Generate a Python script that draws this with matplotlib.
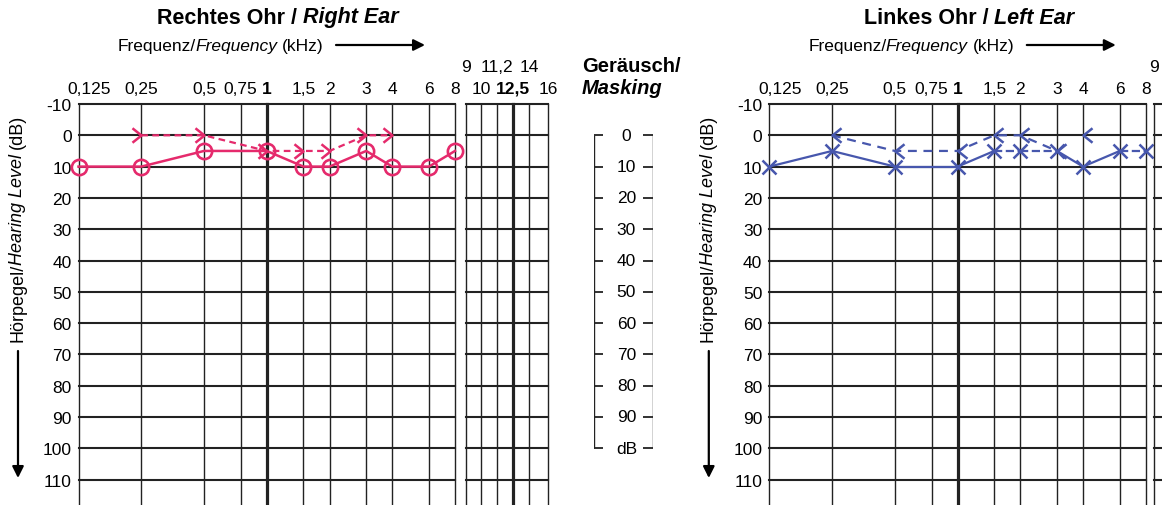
import numpy as np
import matplotlib.pyplot as plt
from matplotlib.path import Path
from matplotlib.text import Annotation
from matplotlib.transforms import blended_transform_factory, ScaledTranslation

plt.rcParams['font.family'] = ['Liberation Sans', 'DejaVu Sans']

# grid frequencies (kHz) and printed labels
freqs = [0.125, 0.25, 0.5, 0.75, 1, 1.5, 2, 3, 4, 6, 8]
freq_labels = ['0,125', '0,25', '0,5', '0,75', '1', '1,5', '2', '3', '4', '6', '8']
ext_freqs = [9, 10, 11.2, 12.5, 14, 16]
ext_labels = ['9', '10', '11,2', '12,5', '14', '16']
levels = list(range(-10, 111, 10))
mask_levels = list(range(0, 101, 10))
mask_labels = ['0', '10', '20', '30', '40', '50', '60', '70', '80', '90', 'dB']

# right ear (red): air conduction (O), bone conduction (>)
r_air_f = [0.125, 0.25, 0.5, 1, 1.5, 2, 3, 4, 6, 8]
r_air_db = [10, 10, 5, 5, 10, 10, 5, 10, 10, 5]
r_bone_f = [0.25, 0.5, 1, 1.5, 2, 3, 4]
r_bone_db = [0, 0, 5, 5, 5, 0, 0]

# left ear (blue): air conduction (X), bone conduction (<)
l_air_f = [0.125, 0.25, 0.5, 1, 1.5, 2, 3, 4, 6, 8]
l_air_db = [10, 5, 10, 10, 5, 5, 5, 10, 5, 5]
l_air_ls = ['-', '-', '-', '-', '--', '--', '-', '-', '--']
l_bone_f = [0.25, 0.5, 1, 1.5, 2, 3, 4]
l_bone_db = [0, 5, 5, 0, 0, 5, 0]

RED = '#e52a6c'
BLUE = '#4757ad'
GRID = '#222222'
FS = 12.5

W, H = 1162, 506
TOP, PX10 = 105, 31.3
Y_BOTTOM = -10 + (H - TOP) / PX10 * 10
SHIFT = 690.8

fig = plt.figure(figsize=(W / 100, H / 100), dpi=100)


def fx(x):
    return x / W


def fy(y):
    return 1 - y / H


def px_axes(x0, x1):
    ax = fig.add_axes([x0 / W, 0, (x1 - x0) / W, (H - TOP) / H])
    ax.set_ylim(Y_BOTTOM, -10)
    for s in ax.spines.values():
        s.set_visible(False)
    ax.tick_params(which='both', length=0)
    return ax


def rich(x, y, parts, size, rotation=0, center=False):
    # parts: (text, weight, style, gap in points before it)
    t0 = fig.text(fx(x), fy(y), parts[0][0], fontsize=size, fontweight=parts[0][1],
                  fontstyle=parts[0][2], rotation=rotation, ha='left',
                  va='center' if rotation == 0 else 'bottom')
    arts = [t0]
    for s, wt, st, gap in parts[1:]:
        xy, off = ((1, 0), (gap, 0)) if rotation == 0 else ((0, 1), (0, gap))
        a = Annotation(s, xy=xy, xycoords=arts[-1], xytext=off, textcoords='offset points',
                       ha='left', va='bottom', rotation=rotation, fontsize=size,
                       fontweight=wt, fontstyle=st)
        fig.add_artist(a)
        arts.append(a)
    if center:
        r = fig.canvas.get_renderer()
        x0 = arts[0].get_window_extent(r).x0
        x1 = arts[-1].get_window_extent(r).x1
        t0.set_x(fx(x) - (x1 - x0) / 2 / W)
    return arts


def grid_lines(ax, xs, thick):
    for f in xs:
        ax.axvline(f, color=GRID, lw=2.3 if f == thick else 1.0, clip_on=False)
    for v in levels:
        ax.axhline(v, color=GRID, lw=1.5, clip_on=False)


def main_grid(x0):
    ax = px_axes(x0, x0 + 376.5)
    ax.set_xscale('log', base=2)
    ax.set_xlim(0.125, 8)
    ax.set_xticks([])
    ax.xaxis.set_minor_locator(plt.NullLocator())
    ax.set_yticks(levels, [str(v) for v in levels], fontsize=FS)
    ax.tick_params(axis='y', pad=5)
    grid_lines(ax, freqs, 1)
    tr = blended_transform_factory(ax.transData, fig.transFigure)
    for i, (f, lab) in enumerate(zip(freqs, freq_labels)):
        t = ax.text(f, fy(89), lab, transform=tr, ha='center', va='center', fontsize=FS,
                    fontweight='bold' if lab == '1' else 'normal')
        if i == 0:
            t.set_transform(tr + ScaledTranslation(0.11, 0, fig.dpi_scale_trans))
    return ax


def ext_grid(x0):
    ax = px_axes(x0, x0 + 82.3)
    ax.set_xscale('log')
    ax.set_xlim(9, 16)
    ax.set_xticks([])
    ax.xaxis.set_minor_locator(plt.NullLocator())
    ax.set_yticks([])
    grid_lines(ax, ext_freqs, 12.5)
    tr = blended_transform_factory(ax.transData, fig.transFigure)
    for i, (f, lab) in enumerate(zip(ext_freqs, ext_labels)):
        if ax.transData.transform((f, 0))[0] > W - 6:
            continue  # beyond the scanned page
        ax.text(f, fy(67 if i % 2 == 0 else 89), lab, transform=tr, ha='center', va='center',
                fontsize=FS, fontweight='bold' if lab == '12,5' else 'normal')
    return ax


def panel_text(dx, title):
    rich(278 + dx, 18, title, 15.5, center=True)
    rich(118 + dx, 46, [('Frequenz/', 'normal', 'normal', 0),
                        ('Frequency', 'normal', 'italic', -0.8),
                        ('(kHz)', 'normal', 'normal', 3.2)], 12.5)
    fig.add_artist(Annotation('', xy=(fx(425 + dx), fy(46)), xycoords='figure fraction',
                              xytext=(fx(336 + dx), fy(46)), textcoords='figure fraction',
                              arrowprops=dict(arrowstyle='-|>', color='k', lw=1.6,
                                              mutation_scale=17, shrinkA=0, shrinkB=0)))
    rich(9 + dx, 342, [('Hörpegel/', 'normal', 'normal', 0),
                       ('Hearing Level', 'normal', 'italic', -0.8),
                       ('(dB)', 'normal', 'normal', 3.3)], 13, rotation=90)
    fig.add_artist(Annotation('', xy=(fx(18 + dx), fy(479)), xycoords='figure fraction',
                              xytext=(fx(18 + dx), fy(352)), textcoords='figure fraction',
                              arrowprops=dict(arrowstyle='-|>', color='k', lw=1.6,
                                              mutation_scale=17, shrinkA=0, shrinkB=0)))


gt_marker = Path([(-1, 0.8), (0, 0), (-1, -0.8)], [Path.MOVETO, Path.LINETO, Path.LINETO])
lt_marker = Path([(1, 0.8), (0, 0), (1, -0.8)], [Path.MOVETO, Path.LINETO, Path.LINETO])

# ---- right ear ----
axr = main_grid(78.5)
ext_grid(466)
axr.plot(r_air_f, r_air_db, '-', color=RED, lw=1.8, marker='o', ms=11, mfc='none',
         mew=1.9, clip_on=False, zorder=5)
axr.plot(r_bone_f, r_bone_db, ls=(0, (3, 2)), color=RED, lw=1.6, marker=gt_marker, ms=13,
         mfc='none', mew=1.8, clip_on=False, zorder=5)
panel_text(0, [('Rechtes Ohr /', 'bold', 'normal', 0), ('Right Ear', 'bold', 'italic', 4.2)])

# ---- masking scale ----
axm = px_axes(594, 653)
axm.set_xlim(0, 1)
axm.axis('off')
axm.vlines([0, 1], 0, 100, color=GRID, lw=1.0)
axm.hlines(mask_levels, 0, 0.15, color=GRID, lw=1.3)
axm.hlines(mask_levels, 0.83, 1, color=GRID, lw=1.3)
for v, lab in zip(mask_levels, mask_labels):
    axm.text(0.55, v, lab, ha='center', va='center', fontsize=FS)
fig.text(fx(582), fy(67), 'Geräusch/', fontsize=14.5, fontweight='bold', va='center')
fig.text(fx(582), fy(89), 'Masking', fontsize=14.5, fontweight='bold', fontstyle='italic',
         va='center')

# ---- left ear ----
axl = main_grid(78.5 + SHIFT)
ext_grid(463 + SHIFT)
for i, ls in enumerate(l_air_ls):
    axl.plot(l_air_f[i:i + 2], l_air_db[i:i + 2], ls=ls, color=BLUE, lw=1.6, clip_on=False,
             zorder=5)
axl.plot(l_air_f, l_air_db, ls='none', color=BLUE, marker='x', ms=10, mew=1.8,
         clip_on=False, zorder=5)
axl.plot(l_bone_f[:-1], l_bone_db[:-1], ls=(0, (4, 3)), color=BLUE, lw=1.6, clip_on=False,
         zorder=5)
axl.plot(l_bone_f, l_bone_db, ls='none', color=BLUE, marker=lt_marker, ms=13, mfc='none',
         mew=1.8, clip_on=False, zorder=5)
panel_text(SHIFT, [('Linkes Ohr /', 'bold', 'normal', 0), ('Left Ear', 'bold', 'italic', 4.2)])

fig.savefig('out.png', dpi=100, facecolor='white')
